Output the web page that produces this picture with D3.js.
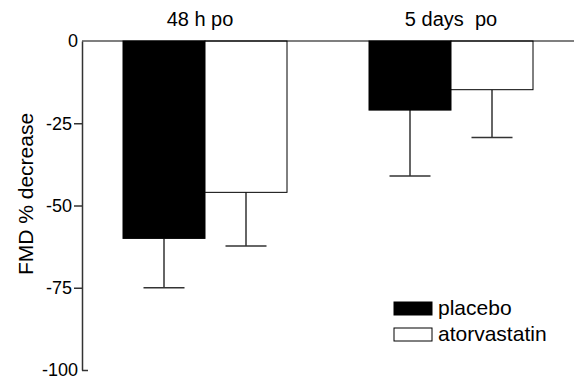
<!DOCTYPE html>
<html>
<head>
<meta charset="utf-8">
<script src="https://cdn.jsdelivr.net/npm/d3@7"></script>
<style>
  body { margin: 0; background: #fff; }
  svg { display: block; font-family: "Liberation Sans", Arial, sans-serif; }
</style>
</head>
<body>
<div id="chart"></div>
<script>
// ---- data ----
const groups = ['48 h po', '5 days  po'];
const series = ['placebo', 'atorvastatin'];
const placeboMean = [-60, -21];
const placeboErrEnd = [-75, -41];
const atorvaMean = [-46, -14.8];
const atorvaErrEnd = [-62.3, -29.3];
const yTicks = [0, -25, -50, -75, -100];

const width = 574, height = 380;
const margin = { top: 41, right: 0, bottom: 10, left: 82 };

const svg = d3.select('#chart').append('svg')
    .attr('width', width)
    .attr('height', height);

const x = d3.scaleBand()
    .domain(groups)
    .range([margin.left, width])
    .paddingInner(1 / 3)
    .paddingOuter(1 / 6);

const sub = d3.scaleBand()
    .domain(series)
    .range([0, x.bandwidth()]);

const y = d3.scaleLinear()
    .domain([0, -100])
    .range([margin.top, 370]);

const rows = groups.map((g, i) => ([
    { group: g, key: 'placebo', mean: placeboMean[i], err: placeboErrEnd[i] },
    { group: g, key: 'atorvastatin', mean: atorvaMean[i], err: atorvaErrEnd[i] }
])).flat();

// Error bars (downward only), drawn under the bars
const eb = svg.append('g').attr('stroke', '#333').attr('stroke-width', 1.5);
rows.forEach(d => {
    const cx = x(d.group) + sub(d.key) + sub.bandwidth() / 2;
    const cap = sub.bandwidth() / 4;
    eb.append('line')
        .attr('x1', cx).attr('x2', cx)
        .attr('y1', y(d.mean)).attr('y2', y(d.err));
    eb.append('line')
        .attr('x1', cx - cap).attr('x2', cx + cap)
        .attr('y1', y(d.err)).attr('y2', y(d.err));
});

// Bars
svg.append('g')
    .selectAll('rect')
    .data(rows)
    .join('rect')
    .attr('x', d => x(d.group) + sub(d.key))
    .attr('width', sub.bandwidth())
    .attr('y', y(0))
    .attr('height', d => y(d.mean) - y(0))
    .attr('fill', d => d.key === 'placebo' ? '#000' : '#fff')
    .attr('stroke', '#000')
    .attr('stroke-width', 1);

// Zero line across the top
svg.append('line')
    .attr('x1', margin.left).attr('x2', width)
    .attr('y1', y(0)).attr('y2', y(0))
    .attr('stroke', '#000').attr('stroke-width', 1.2);

// Y axis (plain hyphen for negatives, like the original)
const axis = svg.append('g')
    .attr('transform', `translate(${margin.left},0)`)
    .call(d3.axisLeft(y).tickValues(yTicks).tickFormat(d => String(d))
        .tickSize(8).tickPadding(2).tickSizeOuter(0));
axis.select('.domain').attr('stroke', '#333').attr('stroke-width', 1.5);
axis.selectAll('.tick line')
    .attr('stroke', '#333').attr('stroke-width', 1.5)
    .attr('x2', d => (d === 0 ? 0 : d === -100 ? 6 : -8));
axis.selectAll('.tick text')
    .attr('x', d => (d === 0 || d === -100) ? -4 : -10)
    .attr('fill', '#000')
    .style('font-size', '18px')
    .style('font-family', '"Liberation Sans", Arial, sans-serif');

// Y label
svg.append('text')
    .attr('transform', 'rotate(-90)')
    .attr('x', -194)
    .attr('y', 33)
    .attr('text-anchor', 'middle')
    .style('font-size', '21px')
    .text('FMD % decrease');

// Group titles
svg.append('g')
    .selectAll('text')
    .data(groups)
    .join('text')
    .attr('x', (d, i) => x(d) + x.bandwidth() / 2 - (i === 0 ? 5 : 0))
    .attr('y', 26)
    .attr('text-anchor', 'middle')
    .style('font-size', '20px')
    .style('white-space', 'pre')
    .attr('xml:space', 'preserve')
    .text(d => d);

// Legend
const legend = svg.append('g').attr('transform', 'translate(394,302)');
series.forEach((s, i) => {
    legend.append('rect')
        .attr('x', 0).attr('y', i * 26)
        .attr('width', 38).attr('height', 13)
        .attr('fill', i === 0 ? '#000' : '#fff')
        .attr('stroke', '#000').attr('stroke-width', 1);
    legend.append('text')
        .attr('x', 44).attr('y', i * 26 + 13)
        .style('font-size', '21px')
        .text(s);
});
</script>
</body>
</html>
